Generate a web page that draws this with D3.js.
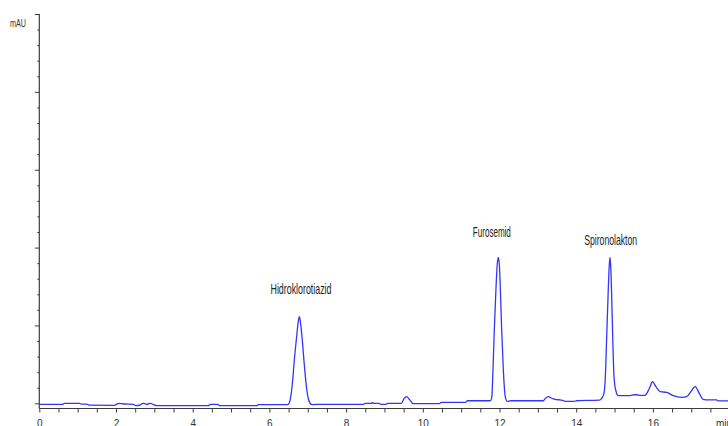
<!DOCTYPE html>
<html>
<head>
<meta charset="utf-8">
<script src="https://cdn.jsdelivr.net/npm/d3@7"></script>
<style>
  html, body { margin: 0; padding: 0; background: #fff; }
  svg { display: block; }
</style>
</head>
<body>
<svg id="chart" width="728" height="426"></svg>
<script>
// ---- data ----
const times = [
  0.00, 0.62, 0.65, 1.05, 1.10, 1.26, 1.30, 1.96, 2.02, 2.08, 2.15, 2.21, 2.45, 2.52, 2.62,
  2.70, 2.76, 2.80, 2.85, 2.90, 2.97, 3.06, 4.41, 4.46, 4.65, 4.71, 5.67, 5.71, 6.45, 6.49,
  6.54, 6.60, 6.65, 6.71, 6.75, 6.78, 6.81, 6.85, 6.90, 6.955, 7.025, 7.10, 7.15, 7.22,
  8.46, 8.50, 8.67, 8.69, 8.71, 8.86, 8.90, 9.04, 9.08, 9.44, 9.51, 9.58, 9.65, 9.75,
  10.44, 10.48, 11.12, 11.16, 11.74, 11.77, 11.80, 11.83, 11.864, 11.91, 11.94, 11.97,
  12.00, 12.02, 12.057, 12.10, 12.15, 12.20, 12.30, 13.14, 13.20, 13.27, 13.36, 13.45,
  13.58, 13.65, 13.71, 13.95, 14.01, 14.60, 14.665, 14.725, 14.76, 14.795, 14.83, 14.86,
  14.88, 14.90, 14.926, 14.952, 14.986, 15.03, 15.10, 15.40, 15.53, 15.59, 15.66, 15.79,
  15.91, 15.99, 16.08, 16.19, 16.36, 16.53, 16.75, 16.88, 16.99, 17.10, 17.21, 17.31,
  17.45, 17.66, 17.71, 18.00
];
const absorbance = [
  -1.3, -1.3, 0, 0, -1.0, -1.3, -2.4, -2.6, -1.0, 0, -0.3, -0.9, -1.3, -3.0, -2.5,
  0, -0.5, -1.6, -0.5, 0, -1.5, -3.1, -3.1, -1.3, -1.3, -3.1, -3.1, -1.8, -1.8, -1.5,
  4.2, 25.7, 55.6, 85.5, 104, 111.2, 104, 85.5, 55.6, 25.7, 4.2, -1.5, -1.8, -1.3,
  -1.3, 0, 0, 1.2, 0, 0, -1.3, -1.3, 0, 0, 5.9, 8.5, 5.1, -0.5,
  -0.5, 1.3, 1.3, 3.3, 3.3, 3.6, 8.5, 42.8, 94.1, 149.8, 178, 187.5,
  175, 149.8, 94.1, 42.8, 8.5, 2.5, 3.3, 3.3, 6.5, 8.5, 6.5, 5.1,
  4.3, 3.8, 2.6, 2.6, 3.3, 4.0, 6.4, 12.8, 34.2, 85.5, 136.9, 175,
  187.5, 176, 136.9, 85.5, 34.2, 17.1, 9.8, 9.8, 11, 11, 10.3, 10.3,
  19.3, 27.7, 21.3, 14.9, 14.1, 9.8, 7.7, 8.5, 14.9, 21.3, 12.8, 5.1,
  4.3, 4.3, 3.0, 3.0
];
const peakNames = ["Hidroklorotiazid", "Furosemid", "Spironolakton"];
const peakTimes = [6.78, 11.97, 14.88];
const peakHeights = [111.2, 187.5, 187.5];
const xTickLabels = [0, 2, 4, 6, 8, 10, 12, 14, 16];
const xUnit = "min";
const yUnit = "mAU";

// ---- layout ----
const W = 728, H = 426;
const x0 = 39.3, axisY = 408.5;
const x = d3.scaleLinear().domain([0, 18]).range([x0, x0 + 18 * 38.35]);
const y = d3.scaleLinear().domain([0, 500]).range([403.3, 14]);

const svg = d3.select("#chart");
const axisColor = "#3c3c3c";
const font = "'Liberation Sans', Arial, sans-serif";

// y axis ticks
const yAxis = d3.axisLeft(y)
  .tickValues(d3.range(0, 501, 20))
  .tickSize(2)
  .tickSizeOuter(0)
  .tickFormat("");
const gy = svg.append("g").attr("transform", `translate(${x0},0)`).call(yAxis);
gy.select(".domain").remove();
gy.selectAll(".tick line")
  .attr("stroke", axisColor)
  .attr("x2", d => (d % 100 === 0 ? -4.5 : -2));

// y axis line
svg.append("line")
  .attr("x1", x0).attr("x2", x0)
  .attr("y1", y(500)).attr("y2", axisY)
  .attr("stroke", axisColor).attr("stroke-width", 1.2);

// x axis
const xAxis = d3.axisBottom(x)
  .tickValues(d3.range(0, 18.01, 0.5))
  .tickSize(4)
  .tickSizeOuter(0)
  .tickPadding(6)
  .tickFormat(d => (xTickLabels.includes(d) ? String(d) : ""));
const gx = svg.append("g").attr("transform", `translate(0,${axisY})`).call(xAxis);
gx.select(".domain").remove();
gx.selectAll(".tick line").attr("stroke", axisColor);
gx.selectAll(".tick text")
  .attr("fill", "#333")
  .attr("font-family", font)
  .attr("font-size", 10)
  .attr("dy", null)
  .attr("y", 427 - axisY)
  .attr("transform", d => `translate(0,0)`);

svg.append("line")
  .attr("x1", x0).attr("x2", W)
  .attr("y1", axisY).attr("y2", axisY)
  .attr("stroke", axisColor).attr("stroke-width", 1.2);

// units
svg.append("text")
  .attr("x", 10).attr("y", 26.5)
  .attr("font-family", font).attr("font-size", 10)
  .attr("fill", "#333")
  .attr("textLength", 16).attr("lengthAdjust", "spacingAndGlyphs")
  .text(yUnit);
svg.append("text")
  .attr("x", 716).attr("y", 426.5)
  .attr("font-family", font).attr("font-size", 10)
  .attr("fill", "#333")
  .text(xUnit);

// trace
const pts = times.map((t, i) => [t, absorbance[i]]);
const line = d3.line()
  .x(d => x(d[0]))
  .y(d => y(d[1]))
  .curve(d3.curveMonotoneX);
svg.append("path")
  .datum(pts)
  .attr("fill", "none")
  .attr("stroke", "#3434ff")
  .attr("stroke-width", 1.3)
  .attr("stroke-linejoin", "round")
  .attr("d", line);

// peak labels
const labelLayout = [
  { dx: 1.7, dy: -22.7, w: 61 },
  { dx: -6.5, dy: -20.3, w: 38 },
  { dx: 0.7, dy: -12.3, w: 53 }
];
peakNames.forEach((name, i) => {
  const L = labelLayout[i];
  svg.append("text")
    .attr("x", x(peakTimes[i]) + L.dx)
    .attr("y", y(peakHeights[i]) + L.dy)
    .attr("text-anchor", "middle")
    .attr("font-family", font)
    .attr("font-size", 15)
    .attr("fill", "#222")
    .attr("textLength", L.w)
    .attr("lengthAdjust", "spacingAndGlyphs")
    .text(name);
});
</script>
</body>
</html>
